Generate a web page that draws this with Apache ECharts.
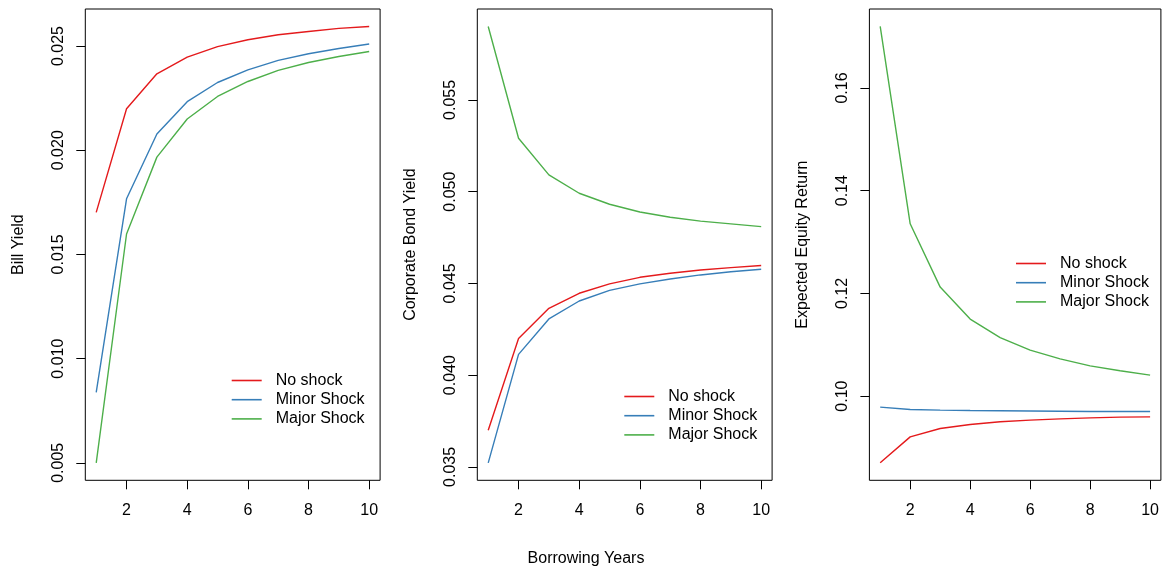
<!DOCTYPE html>
<html>
<head>
<meta charset="utf-8">
<script src="https://cdn.jsdelivr.net/npm/echarts@6/dist/echarts.min.js"></script>
<style>
html,body{margin:0;padding:0;background:#fff;}
#chart{width:1162px;height:568px;}
</style>
</head>
<body>
<div id="chart"></div>
<script>
// ---- data ----
var years = [1, 2, 3, 4, 5, 6, 7, 8, 9, 10];
var seriesNames = ['No shock', 'Minor Shock', 'Major Shock'];

var billNo    = [0.01702, 0.02199, 0.02367, 0.02447, 0.02497, 0.02530, 0.02554, 0.02570, 0.02585, 0.02594];
var billMinor = [0.00838, 0.01767, 0.02078, 0.02233, 0.02325, 0.02386, 0.02431, 0.02463, 0.02488, 0.02510];
var billMajor = [0.00500, 0.01598, 0.01967, 0.02150, 0.02258, 0.02330, 0.02383, 0.02421, 0.02450, 0.02474];

var bondNo    = [0.03700, 0.04200, 0.04364, 0.04446, 0.04497, 0.04533, 0.04555, 0.04573, 0.04586, 0.04597];
var bondMinor = [0.03522, 0.04113, 0.04306, 0.04404, 0.04462, 0.04497, 0.04524, 0.04546, 0.04563, 0.04577];
var bondMajor = [0.05900, 0.05291, 0.05091, 0.04991, 0.04931, 0.04889, 0.04860, 0.04839, 0.04824, 0.04809];

var eqNo    = [0.08701, 0.09207, 0.09369, 0.09447, 0.09500, 0.09533, 0.09558, 0.09577, 0.09591, 0.09597];
var eqMinor = [0.09786, 0.09739, 0.09727, 0.09720, 0.09715, 0.09710, 0.09705, 0.09700, 0.09700, 0.09700];
var eqMajor = [0.17198, 0.13355, 0.12123, 0.11500, 0.11141, 0.10896, 0.10726, 0.10590, 0.10493, 0.10409];

var xTicks = [2, 4, 6, 8, 10];
var billTicks = [0.005, 0.010, 0.015, 0.020, 0.025];
var bondTicks = [0.035, 0.040, 0.045, 0.050, 0.055];
var eqTicks = [0.10, 0.12, 0.14, 0.16];

var yNames = ['Bill Yield', 'Corporate Bond Yield', 'Expected Equity Return'];
var xTitle = 'Borrowing Years';

// ---- styling ----
var colors = ['#E41A1C', '#377EB8', '#4DAF4A'];
var FONT = 'Liberation Sans, Arial, Helvetica, sans-serif';

function rRange(arrs) {
  var all = [].concat.apply([], arrs);
  var mn = Math.min.apply(null, all), mx = Math.max.apply(null, all);
  var pad = (mx - mn) * 0.04;
  return [mn - pad, mx + pad];
}

var panels = [
  {data: [billNo, billMinor, billMajor], ticks: billTicks, dec: 3, left: 85.3, legendTop: 371, legendLeft: 231.7},
  {data: [bondNo, bondMinor, bondMajor], ticks: bondTicks, dec: 3, left: 477.3, legendTop: 387, legendLeft: 624.3},
  {data: [eqNo, eqMinor, eqMajor], ticks: eqTicks, dec: 2, left: 869.4, legendTop: 254, legendLeft: 1016}
];

var xr = rRange([years]);
var grids = [], xAxes = [], yAxes = [], series = [], legends = [];

panels.forEach(function (p, i) {
  grids.push({left: p.left, top: 9, width: 294.8, height: 471.3, show: true,
    borderColor: '#000', borderWidth: 1, backgroundColor: 'transparent', containLabel: false});
  xAxes.push({type: 'value', gridIndex: i, min: xr[0], max: xr[1],
    axisLine: {show: false}, splitLine: {show: false},
    axisTick: {show: true, length: 9, customValues: xTicks, lineStyle: {color: '#000', width: 1}},
    axisLabel: {show: true, customValues: xTicks, margin: 22, fontSize: 16, color: '#000', fontFamily: FONT,
      formatter: function (v) { return String(v); }}
  });
  var yr = rRange(p.data);
  yAxes.push({type: 'value', gridIndex: i, min: yr[0], max: yr[1],
    name: yNames[i], nameLocation: 'middle', nameGap: 59, nameRotate: 90,
    nameTextStyle: {fontSize: 16, color: '#000', fontFamily: FONT},
    axisLine: {show: false}, splitLine: {show: false},
    axisTick: {show: true, length: 9, customValues: p.ticks, lineStyle: {color: '#000', width: 1}},
    axisLabel: {show: true, customValues: p.ticks, rotate: 90, margin: 19, fontSize: 16, color: '#000', fontFamily: FONT,
      formatter: (function (d) { return function (v) { return v.toFixed(d); }; })(p.dec)}
  });
  p.data.forEach(function (arr, k) {
    series.push({type: 'line', name: seriesNames[k], xAxisIndex: i, yAxisIndex: i,
      data: years.map(function (x, j) { return [x, arr[j]]; }),
      symbol: 'none', showSymbol: false, color: colors[k],
      lineStyle: {color: colors[k], width: 1.4}, animation: false, silent: true});
  });
  legends.push({orient: 'vertical', left: p.legendLeft, top: p.legendTop, padding: 0, itemGap: 0.2,
    itemWidth: 30, itemHeight: 1.6, icon: 'rect', data: seriesNames, selectedMode: false,
    textStyle: {fontSize: 16, color: '#000', fontFamily: FONT, lineHeight: 19, padding: [0, 0, 0, 9]}});
});

var chart = echarts.init(document.getElementById('chart'), null, {renderer: 'canvas'});
chart.setOption({
  backgroundColor: '#fff',
  animation: false,
  title: {text: xTitle, left: 586, top: 551, textAlign: 'center', padding: 0,
    textStyle: {fontSize: 16, fontWeight: 'normal', color: '#000', fontFamily: FONT}},
  grid: grids, xAxis: xAxes, yAxis: yAxes, legend: legends, series: series
});
</script>
</body>
</html>
